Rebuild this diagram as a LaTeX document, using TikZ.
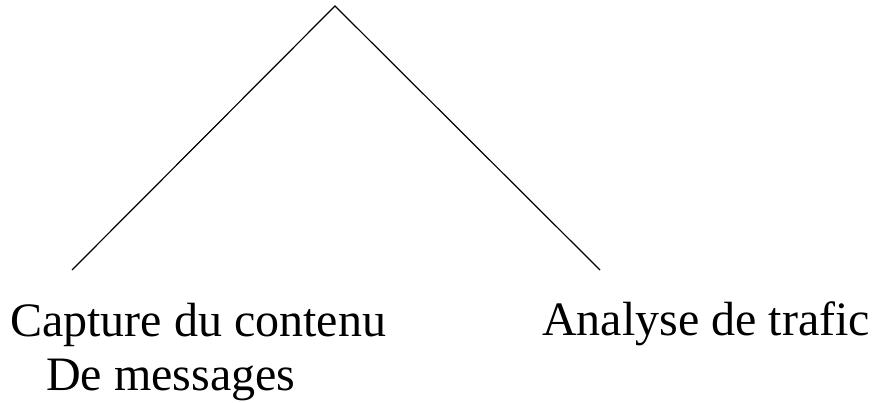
\documentclass[tikz,border=0pt]{standalone}
\usepackage{fontspec}
\setmainfont{Liberation Serif}
\begin{document}
\begin{tikzpicture}[x=1pt,y=1pt,
  lbl/.style={inner sep=0pt, anchor=base west, font=\fontsize{48}{54}\selectfont},
  edge/.style={draw=black, line width=1.2pt}]
\useasboundingbox (0,0) rectangle (872,403);
\coordinate (apex) at (335,397);
\coordinate (lend) at (72,133);
\coordinate (rend) at (600,133);
\draw[edge] (lend) -- (apex) -- (rend);
\node[lbl] (cap) at (10,66) {Capture du contenu};
\node[lbl] (msg) at (46,12) {De messages};
\node[lbl] (ana) at (542,67) {Analyse de trafic};
\end{tikzpicture}
\end{document}
